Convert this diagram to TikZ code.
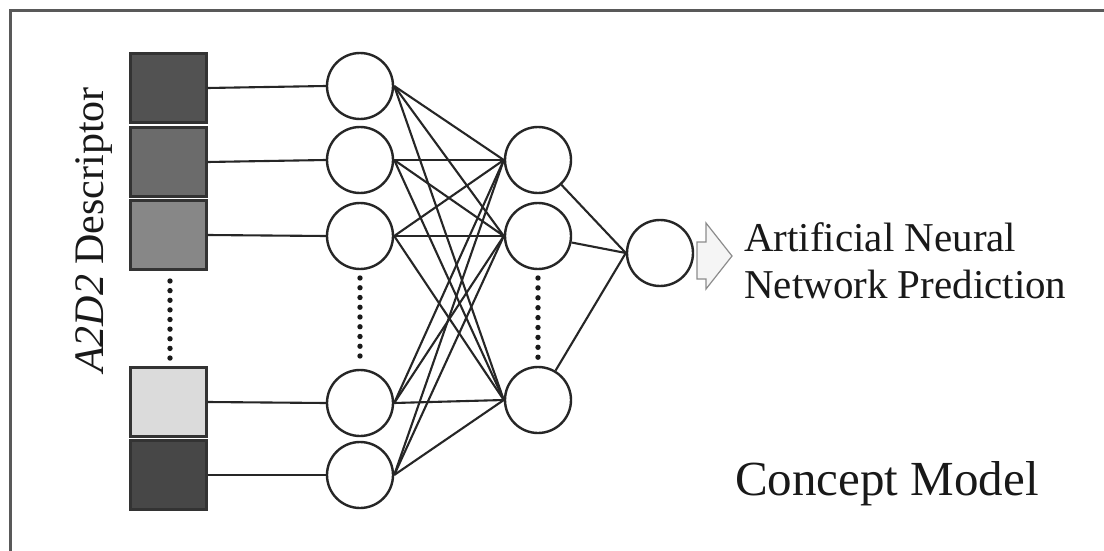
\documentclass[tikz,border=0pt]{standalone}
\usepackage{fontspec}
\setmainfont{Liberation Serif}
\begin{document}
\begin{tikzpicture}[x=1pt,y=-1pt,
  inbox/.style={draw=black!80,line width=2.2pt,minimum width=76pt,minimum height=69pt,inner sep=0pt},
  neuron/.style={circle,draw=black!85,line width=2.4pt,minimum size=66pt,inner sep=0pt,fill=white},
  link/.style={draw=black!85,line width=2.1pt},
  dotc/.style={fill=black!90},
  lbl/.style={inner sep=0pt,text=black!90}
]
\useasboundingbox (0,0) rectangle (1104,551);
\fill[white] (0,0) rectangle (1104,551);
% frame (top and left edges only visible)
\draw[line width=3pt,draw=black!65] (10.5,560) -- (10.5,10.5) -- (1110,10.5);

% input boxes
\node[inbox,fill=black!68] (b1) at (168.5,88) {};
\node[inbox,fill=black!58] (b2) at (168.5,162) {};
\node[inbox,fill=black!47] (b3) at (168.5,235) {};
\node[inbox,fill=black!14] (b4) at (168.5,402) {};
\node[inbox,fill=black!72] (b5) at (168.5,475) {};

% input neurons
\node[neuron] (i1) at (360,86) {};
\node[neuron] (i2) at (360,160) {};
\node[neuron] (i3) at (360,236) {};
\node[neuron] (i4) at (360,403) {};
\node[neuron] (i5) at (360,475) {};

% hidden neurons
\node[neuron] (h1) at (538,160) {};
\node[neuron] (h2) at (538,236) {};
\node[neuron] (h3) at (538,400) {};

% output neuron
\node[neuron] (o) at (660,253) {};

% connections
\foreach \k in {1,...,5}{
  \draw[link] (b\k.east) -- (i\k.west);
  \foreach \j in {1,2,3}{
    \draw[link] (i\k.east) -- (h\j.west);
  }
}
\foreach \j in {1,2,3}{
  \draw[link] (h\j) -- (o.west);
}

% dotted ellipses
\foreach \n in {0,...,8}{
  \fill[dotc] (170,281+\n*9.63) circle (2.7pt);
  \fill[dotc] (360,278+\n*9.75) circle (2.7pt);
  \fill[dotc] (538,278+\n*9.9) circle (2.7pt);
}

% output arrow
\draw[draw=black!45,fill=black!4,line width=1.2pt,line join=miter]
  (697,242) -- (706,242) -- (706,223) -- (732,256) -- (706,289) -- (706,279) -- (697,279) -- cycle;

% labels
\node[lbl,rotate=90,anchor=base,font=\fontsize{42}{47}\selectfont] (desc) at (103,230) {\textit{A2D2} Descriptor};
\node[lbl,anchor=north west,align=left,font=\fontsize{41}{47}\selectfont] (pred) at (744,222) {Artificial Neural\\Network Prediction};
\node[lbl,anchor=base west,font=\fontsize{49}{55}\selectfont] (concept) at (735,495) {Concept Model};
\end{tikzpicture}
\end{document}
